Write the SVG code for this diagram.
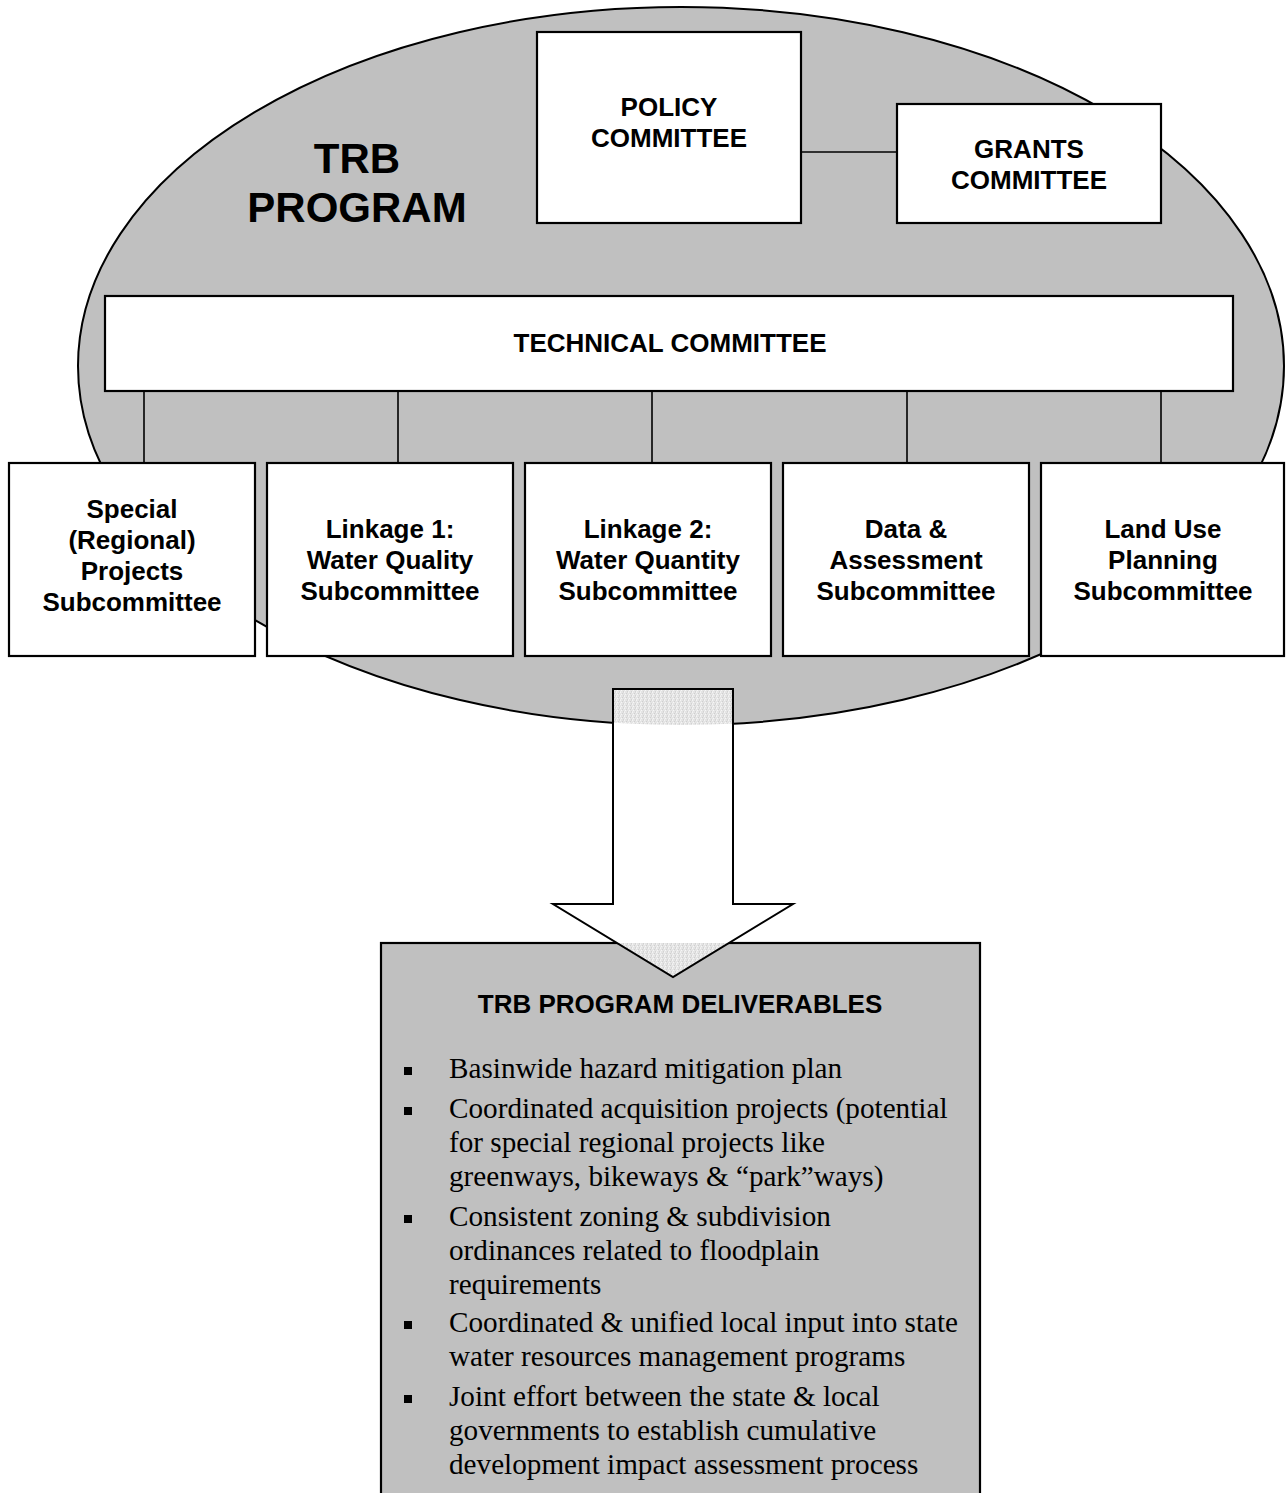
<svg xmlns="http://www.w3.org/2000/svg" width="1286" height="1493" viewBox="0 0 1286 1493">
<style>
.box{fill:#ffffff;stroke:#000000;stroke-width:2.2}
.conn{stroke:#000000;stroke-width:1.6;fill:none}
.h{font-family:"Liberation Sans",Arial,sans-serif;font-weight:bold;font-size:26px;fill:#000000;text-anchor:middle}
.big{font-family:"Liberation Sans",Arial,sans-serif;font-weight:bold;font-size:42px;fill:#000000;text-anchor:middle}
.b{font-family:"Liberation Serif","Times New Roman",serif;font-size:29.2px;fill:#000000}
.sq{fill:#000000}
</style>
<defs>
<pattern id="tex" width="4" height="4" patternUnits="userSpaceOnUse">
<rect width="4" height="4" fill="#e4e4e4"/>
<rect x="0" y="0" width="1" height="1" fill="#f4f4f4"/>
<rect x="2" y="1" width="1" height="1" fill="#cfcfcf"/>
<rect x="1" y="2" width="1" height="1" fill="#f6f6f6"/>
<rect x="3" y="3" width="1" height="1" fill="#d2d2d2"/>
<rect x="3" y="0" width="1" height="1" fill="#dadada"/>
<rect x="0" y="3" width="1" height="1" fill="#eeeeee"/>
</pattern>
<clipPath id="clipEll"><ellipse cx="681" cy="366" rx="603" ry="359"/></clipPath>
<clipPath id="clipBox"><rect x="381" y="943" width="599" height="560"/></clipPath>
</defs>
<rect width="1286" height="1493" fill="#ffffff"/>

<g id="trb-program">
<ellipse cx="681" cy="366" rx="603" ry="359" fill="#c0c0c0" stroke="#000000" stroke-width="2"/>
<text class="big" x="357" y="173">TRB</text>
<text class="big" x="357" y="222">PROGRAM</text>
</g>

<g id="deliverables">
<rect x="381" y="943" width="599" height="560" fill="#c0c0c0" stroke="#000000" stroke-width="2.2"/>
<text class="h" x="680" y="1013">TRB PROGRAM DELIVERABLES</text>
<rect class="sq" x="404" y="1067" width="8" height="8"/>
<text class="b" x="449" y="1078">Basinwide hazard mitigation plan</text>
<rect class="sq" x="404" y="1107" width="8" height="8"/>
<text class="b" x="449" y="1118">Coordinated acquisition projects (potential</text>
<text class="b" x="449" y="1152">for special regional projects like</text>
<text class="b" x="449" y="1186">greenways, bikeways &amp; “park”ways)</text>
<rect class="sq" x="404" y="1215" width="8" height="8"/>
<text class="b" x="449" y="1226">Consistent zoning &amp; subdivision</text>
<text class="b" x="449" y="1260">ordinances related to floodplain</text>
<text class="b" x="449" y="1294">requirements</text>
<rect class="sq" x="404" y="1321" width="8" height="8"/>
<text class="b" x="449" y="1332">Coordinated &amp; unified local input into state</text>
<text class="b" x="449" y="1366">water resources management programs</text>
<rect class="sq" x="404" y="1395" width="8" height="8"/>
<text class="b" x="449" y="1406">Joint effort between the state &amp; local</text>
<text class="b" x="449" y="1440">governments to establish cumulative</text>
<text class="b" x="449" y="1474">development impact assessment process</text>
</g>

<g id="connectors">
<line class="conn" x1="801" y1="152" x2="897" y2="152"/>
<line class="conn" x1="144" y1="391" x2="144" y2="463"/>
<line class="conn" x1="398" y1="391" x2="398" y2="463"/>
<line class="conn" x1="652" y1="391" x2="652" y2="463"/>
<line class="conn" x1="907" y1="391" x2="907" y2="463"/>
<line class="conn" x1="1161" y1="391" x2="1161" y2="463"/>
<g id="flow-arrow">
<path d="M613,689 L733,689 L733,904 L793,904 L673,977 L553,904 L613,904 Z" fill="#ffffff"/>
<path d="M613,689 L733,689 L733,904 L793,904 L673,977 L553,904 L613,904 Z" fill="url(#tex)" clip-path="url(#clipEll)"/>
<path d="M613,689 L733,689 L733,904 L793,904 L673,977 L553,904 L613,904 Z" fill="url(#tex)" clip-path="url(#clipBox)"/>
<path d="M613,689 L733,689 L733,904 L793,904 L673,977 L553,904 L613,904 Z" fill="none" stroke="#000000" stroke-width="2"/>
</g>
</g>

<g id="policy-committee">
<rect class="box" x="537" y="32" width="264" height="191"/>
<text class="h" x="669" y="116">POLICY</text>
<text class="h" x="669" y="147">COMMITTEE</text>
</g>

<g id="grants-committee">
<rect class="box" x="897" y="104" width="264" height="119"/>
<text class="h" x="1029" y="158">GRANTS</text>
<text class="h" x="1029" y="189">COMMITTEE</text>
</g>

<g id="technical-committee">
<rect class="box" x="105" y="296" width="1128" height="95"/>
<text class="h" x="670" y="352">TECHNICAL COMMITTEE</text>
</g>

<g id="special-projects">
<rect class="box" x="9" y="463" width="246" height="193"/>
<text class="h" x="132" y="518">Special</text>
<text class="h" x="132" y="549">(Regional)</text>
<text class="h" x="132" y="580">Projects</text>
<text class="h" x="132" y="611">Subcommittee</text>
</g>

<g id="water-quality">
<rect class="box" x="267" y="463" width="246" height="193"/>
<text class="h" x="390" y="538">Linkage 1:</text>
<text class="h" x="390" y="569">Water Quality</text>
<text class="h" x="390" y="600">Subcommittee</text>
</g>

<g id="water-quantity">
<rect class="box" x="525" y="463" width="246" height="193"/>
<text class="h" x="648" y="538">Linkage 2:</text>
<text class="h" x="648" y="569">Water Quantity</text>
<text class="h" x="648" y="600">Subcommittee</text>
</g>

<g id="data-assessment">
<rect class="box" x="783" y="463" width="246" height="193"/>
<text class="h" x="906" y="538">Data &amp;</text>
<text class="h" x="906" y="569">Assessment</text>
<text class="h" x="906" y="600">Subcommittee</text>
</g>

<g id="land-use">
<rect class="box" x="1041" y="463" width="243" height="193"/>
<text class="h" x="1163" y="538">Land Use</text>
<text class="h" x="1163" y="569">Planning</text>
<text class="h" x="1163" y="600">Subcommittee</text>
</g>
</svg>
